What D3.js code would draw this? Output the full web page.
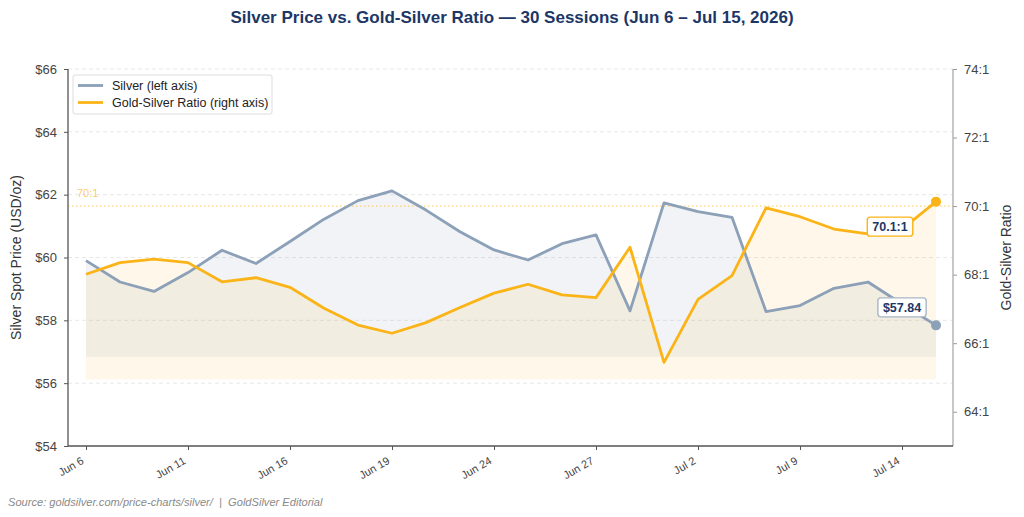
<!DOCTYPE html>
<html>
<head>
<meta charset="utf-8">
<script src="https://cdn.jsdelivr.net/npm/d3@7"></script>
<style>
  body { margin: 0; background: #fff; }
  svg { display: block; font-family: "Liberation Sans", Arial, sans-serif; }
</style>
</head>
<body>
<div id="chart"></div>
<script>
// session dates (trading days), every third one is labelled on the axis
const dates = ["Jun 6", "Jun 9", "Jun 10", "Jun 11", "Jun 12", "Jun 15", "Jun 16", "Jun 17", "Jun 18", "Jun 19",
  "Jun 22", "Jun 23", "Jun 24", "Jun 25", "Jun 26", "Jun 27", "Jun 30", "Jul 1", "Jul 2", "Jul 6",
  "Jul 8", "Jul 9", "Jul 10", "Jul 13", "Jul 14", "Jul 15"];

const silver = [59.90, 59.22, 58.92, 59.52, 60.23, 59.81, 60.51, 61.22, 61.81, 62.12,
  61.51, 60.82, 60.24, 59.92, 60.44, 60.72, 58.30, 61.74, 61.46, 61.28,
  58.28, 58.47, 59.02, 59.22, 58.52, 57.84];

const ratio = [68.01, 68.35, 68.45, 68.35, 67.79, 67.91, 67.63, 67.02, 66.53, 66.29,
  66.60, 67.04, 67.46, 67.72, 67.41, 67.33, 68.80, 65.44, 67.28, 67.97,
  69.95, 69.69, 69.33, 69.19, 69.33, 70.13];

const xTickDates = ["Jun 6", "Jun 11", "Jun 16", "Jun 19", "Jun 24", "Jun 27", "Jul 2", "Jul 9", "Jul 14"];
const leftTicks = [54, 56, 58, 60, 62, 64, 66];
const rightTicks = [64, 66, 68, 70, 72, 74];
const refRatio = 70;

const silverColor = "#8ca0b8";
const ratioColor = "#fbb417";
const navy = "#1c3766";

const width = 1024;
const height = 517;
const plot = { left: 68, right: 953, top: 69, bottom: 446 };

const svg = d3.select("#chart")
    .append("svg")
    .attr("width", width)
    .attr("height", height);

const x = d3.scalePoint()
    .domain(dates)
    .range([86, 936]);

const yL = d3.scaleLinear()
    .domain([54, 66])
    .range([plot.bottom, plot.top]);

const yR = d3.scaleLinear()
    .domain([63, 74])
    .range([plot.bottom, plot.top]);

// title
svg.append("text")
    .attr("x", width / 2)
    .attr("y", 23)
    .attr("text-anchor", "middle")
    .attr("font-size", 17)
    .attr("font-weight", "bold")
    .attr("fill", navy)
    .text("Silver Price vs. Gold-Silver Ratio — 30 Sessions (Jun 6 – Jul 15, 2026)");

// grid
svg.append("g")
    .selectAll("line")
    .data(leftTicks.slice(1))
    .join("line")
    .attr("x1", plot.left)
    .attr("x2", plot.right)
    .attr("y1", d => yL(d))
    .attr("y2", d => yL(d))
    .attr("stroke", "#e2e2e2")
    .attr("stroke-width", 0.8)
    .attr("stroke-dasharray", "4,3");

// fills
const silverBase = d3.min(silver) - 1;
const ratioBase = d3.min(ratio) - 0.5;

svg.append("path")
    .datum(silver)
    .attr("fill", silverColor)
    .attr("fill-opacity", 0.12)
    .attr("d", d3.area()
        .x((d, i) => x(dates[i]))
        .y0(yL(silverBase))
        .y1(d => yL(d)));

svg.append("path")
    .datum(ratio)
    .attr("fill", ratioColor)
    .attr("fill-opacity", 0.09)
    .attr("d", d3.area()
        .x((d, i) => x(dates[i]))
        .y0(yR(ratioBase))
        .y1(d => yR(d)));

// 70:1 reference
svg.append("line")
    .attr("x1", plot.left)
    .attr("x2", plot.right)
    .attr("y1", yR(refRatio))
    .attr("y2", yR(refRatio))
    .attr("stroke", ratioColor)
    .attr("stroke-opacity", 0.7)
    .attr("stroke-width", 1)
    .attr("stroke-dasharray", "1.5,2.5");

svg.append("text")
    .attr("x", 77)
    .attr("y", yR(refRatio) - 9)
    .attr("font-size", 11)
    .attr("fill", ratioColor)
    .attr("fill-opacity", 0.7)
    .text("70:1");

// lines
svg.append("path")
    .datum(silver)
    .attr("fill", "none")
    .attr("stroke", silverColor)
    .attr("stroke-width", 2.8)
    .attr("stroke-linejoin", "round")
    .attr("d", d3.line()
        .x((d, i) => x(dates[i]))
        .y(d => yL(d)));

svg.append("path")
    .datum(ratio)
    .attr("fill", "none")
    .attr("stroke", ratioColor)
    .attr("stroke-width", 2.8)
    .attr("stroke-linejoin", "round")
    .attr("d", d3.line()
        .x((d, i) => x(dates[i]))
        .y(d => yR(d)));

// end markers
const last = dates.length - 1;
svg.append("circle")
    .attr("cx", x(dates[last]))
    .attr("cy", yL(silver[last]))
    .attr("r", 5)
    .attr("fill", silverColor);

svg.append("circle")
    .attr("cx", x(dates[last]))
    .attr("cy", yR(ratio[last]))
    .attr("r", 5)
    .attr("fill", ratioColor);

function callout(cx, cy, label, border) {
  const g = svg.append("g");
  const t = g.append("text")
      .attr("x", cx)
      .attr("y", cy + 4.5)
      .attr("text-anchor", "middle")
      .attr("font-size", 12.5)
      .attr("font-weight", "bold")
      .attr("fill", navy)
      .text(label);
  const b = t.node().getBBox();
  g.insert("rect", "text")
      .attr("x", b.x - 5)
      .attr("y", cy - 9.5)
      .attr("width", b.width + 10)
      .attr("height", 19)
      .attr("rx", 3)
      .attr("fill", "#fff")
      .attr("stroke", border)
      .attr("stroke-width", 1.4);
}

callout(x(dates[last]) - 34, yL(silver[last]) - 18, "$" + silver[last].toFixed(2), "#a9b6c5");
callout(x(dates[last]) - 46, yR(ratio[last]) + 25, ratio[last].toFixed(1) + ":1", ratioColor);

// axes
const leftAxis = svg.append("g")
    .attr("transform", `translate(${plot.left},0)`)
    .call(d3.axisLeft(yL).tickValues(leftTicks).tickFormat(d => "$" + d).tickSize(4).tickPadding(7));

const rightAxis = svg.append("g")
    .attr("transform", `translate(${plot.right},0)`)
    .call(d3.axisRight(yR).tickValues(rightTicks).tickFormat(d => d + ":1").tickSize(4).tickPadding(7));

const bottomAxis = svg.append("g")
    .attr("transform", `translate(0,${plot.bottom})`)
    .call(d3.axisBottom(x).tickValues(xTickDates).tickSize(4).tickPadding(4));

[leftAxis, rightAxis, bottomAxis].forEach(a => {
  a.select(".domain").remove();
  a.selectAll("text")
      .attr("font-family", "Liberation Sans, Arial, sans-serif")
      .attr("fill", "#444");
});

leftAxis.selectAll("text").attr("font-size", 13);
leftAxis.selectAll("line").attr("stroke", "#555");
rightAxis.selectAll("text").attr("font-size", 13);
rightAxis.selectAll("line").attr("stroke", "#999");
bottomAxis.selectAll("line").attr("stroke", "#555");

bottomAxis.selectAll("text")
    .attr("font-size", 11)
    .attr("text-anchor", "end")
    .attr("dy", null)
    .attr("y", 0)
    .attr("transform", "translate(-2,17) rotate(-30)");

// spines
svg.append("line")
    .attr("x1", plot.left).attr("x2", plot.left)
    .attr("y1", plot.top).attr("y2", plot.bottom)
    .attr("stroke", "#555").attr("stroke-width", 1.3);

svg.append("line")
    .attr("x1", plot.right).attr("x2", plot.right)
    .attr("y1", plot.top).attr("y2", plot.bottom)
    .attr("stroke", "#aaa").attr("stroke-width", 1.3);

svg.append("line")
    .attr("x1", plot.left).attr("x2", plot.right)
    .attr("y1", plot.bottom).attr("y2", plot.bottom)
    .attr("stroke", "#555").attr("stroke-width", 1.3);

// axis titles
svg.append("text")
    .attr("transform", `translate(21,${(plot.top + plot.bottom) / 2}) rotate(-90)`)
    .attr("text-anchor", "middle")
    .attr("font-size", 14)
    .attr("fill", "#333")
    .text("Silver Spot Price (USD/oz)");

svg.append("text")
    .attr("transform", `translate(1011,${(plot.top + plot.bottom) / 2}) rotate(-90)`)
    .attr("text-anchor", "middle")
    .attr("font-size", 14)
    .attr("fill", "#333")
    .text("Gold-Silver Ratio");

// legend
const legend = svg.append("g").attr("transform", "translate(73,75)");
legend.append("rect")
    .attr("width", 199)
    .attr("height", 39)
    .attr("rx", 2)
    .attr("fill", "#fff")
    .attr("fill-opacity", 0.9)
    .attr("stroke", "#ddd");

const legendItems = [
  { label: "Silver (left axis)", color: silverColor },
  { label: "Gold-Silver Ratio (right axis)", color: ratioColor }
];

legendItems.forEach((d, i) => {
  legend.append("line")
      .attr("x1", 5).attr("x2", 30)
      .attr("y1", 10.5 + i * 17).attr("y2", 10.5 + i * 17)
      .attr("stroke", d.color)
      .attr("stroke-width", 2.8);
  legend.append("text")
      .attr("x", 39)
      .attr("y", 15 + i * 17)
      .attr("font-size", 12.5)
      .attr("fill", "#222")
      .text(d.label);
});

// source
svg.append("text")
    .attr("x", 8)
    .attr("y", 506)
    .attr("font-size", 11.1)
    .attr("font-style", "italic")
    .attr("fill", "#8a8a8a")
    .text("Source: goldsilver.com/price-charts/silver/  |  GoldSilver Editorial")
    .attr("xml:space", "preserve")
    .style("white-space", "pre");
</script>
</body>
</html>
